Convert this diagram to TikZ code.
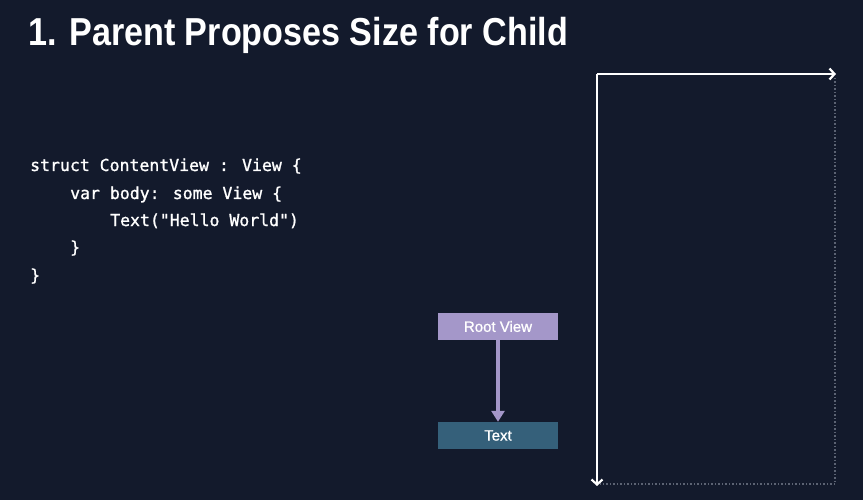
\documentclass[tikz,border=0pt]{standalone}
\usepackage{fontspec}
\setmainfont{Liberation Sans}
\newfontfamily\codefont[FakeBold=1.2]{DejaVu Sans Mono}
\newfontfamily\labelfont[FakeBold=1]{Liberation Sans}
\usetikzlibrary{arrows.meta}
\definecolor{bg}{HTML}{131A2C}
\definecolor{rootc}{HTML}{A497C9}
\definecolor{textc}{HTML}{35607A}
\definecolor{dotc}{HTML}{5C6373}
\tikzset{
  viewbox/.style={minimum width=120pt, minimum height=27pt, inner sep=0pt, text=white, font=\labelfont\fontsize{15}{18}\selectfont},
  codeline/.style={anchor=base west, inner sep=0pt, text=white, font=\codefont\fontsize{16.5}{20}\selectfont},
  axis/.style={white, line width=2pt, -{Straight Barb[length=5pt,width=11pt,line width=2.2pt]}},
  guide/.style={dotc, line width=1.5pt, dotted}
}
\begin{document}
\begin{tikzpicture}[x=1pt,y=-1pt]
\fill[bg] (0,0) rectangle (863,500);
\useasboundingbox (0,0) rectangle (863,500);
\node[anchor=base west, inner sep=0pt, text=white, font=\bfseries\fontsize{39}{44}\selectfont] (title) at (28,46) {\scalebox{0.875}[1]{1. Parent Proposes Size for Child}};
\node[codeline] (c1) at (30,171) {struct ContentView : View \{};
\node[codeline] (c2) at (70,199) {var body: some View \{};
\node[codeline] (c3) at (110,226) {Text("Hello World")};
\node[codeline] (c4) at (70,253) {\}};
\node[codeline] (c5) at (30,281) {\}};
\node[viewbox, fill=rootc] (root) at (498,326.5) {Root View};
\node[viewbox, fill=textc] (txt) at (498,435.5) {Text};
\draw[rootc, line width=3.5pt, -{Triangle[length=11pt,width=13pt]}] (root.south) -- (txt.north);
\coordinate (o) at (597,74);
\coordinate (xe) at (836,74);
\coordinate (ye) at (597,486);
\coordinate (br) at (835,484);
\draw[guide] (835,78) -- (br) -- (600,484);
\draw[axis] (o) -- (xe);
\draw[axis] (o) -- (ye);
\end{tikzpicture}
\end{document}
